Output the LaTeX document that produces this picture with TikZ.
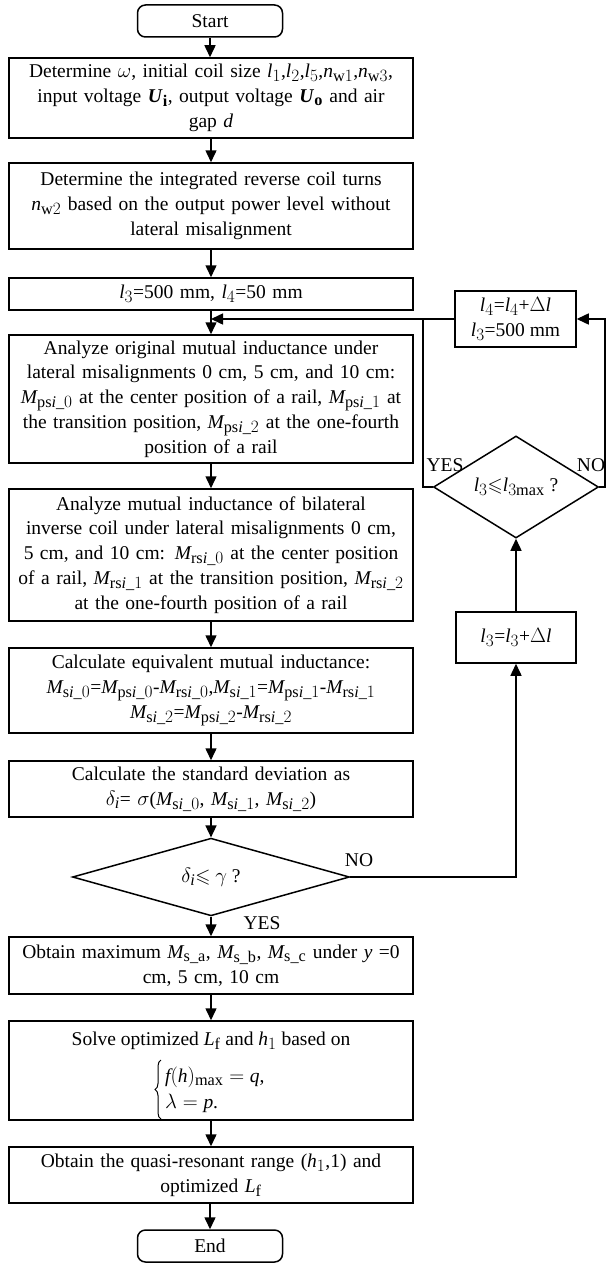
\documentclass[tikz,border=0pt]{standalone}
\usepackage{amsmath,amssymb}
\usepackage{fontspec}
\setmainfont{Liberation Serif}
\usepackage[italic]{mathastext}
\usetikzlibrary{shapes.geometric,arrows.meta,decorations.pathreplacing}
\tikzset{
  every node/.style={font=\fontsize{19.5}{24.8}\selectfont},
  proc/.style={draw, line width=1.5pt, minimum width=404pt, text width=398pt, align=center, inner sep=0pt},
  term/.style={draw, rounded corners=8pt, minimum width=145pt, minimum height=32pt, line width=1.5pt, inner sep=0pt},
  dec/.style={draw, diamond, inner sep=0pt, line width=1.5pt},
  flow/.style={line width=1.5pt, -{Triangle[length=12pt,width=11pt]}},
  plain/.style={line width=1.5pt},
  lab/.style={inner sep=0pt}
}
\begin{document}
\begin{tikzpicture}[x=1pt,y=-1pt]
\useasboundingbox (0,0) rectangle (607,1263);
\node[term] (start) at (210,21) {Start};
\node[proc, minimum height=80pt] (b1) at (211,98) {Determine $\omega$, initial coil size $l_1$,$l_2$,$l_5$,$n_{\mathrm{w}1}$,$n_{\mathrm{w}3}$,\\ input voltage \textbf{\textit{U}}$_{\mathbf{i}}$, output voltage \textbf{\textit{U}}$_{\mathbf{o}}$ and air\\ gap $d$};
\node[proc, minimum height=86pt] (b2) at (211,206) {Determine the integrated reverse coil turns\\ $n_{\mathrm{w}2}$ based on the output power level without\\ lateral misalignment};
\node[proc, minimum height=32pt] (b3) at (211,294) {$l_3$=500 mm, $l_4$=50 mm};
\coordinate (j1) at (211,319);
\node[proc, minimum height=128pt] (b4) at (211,399) {Analyze original mutual inductance under\\ lateral misalignments 0 cm, 5 cm, and 10 cm:\\ $M_{\mathrm{ps}i\_0}$ at the center position of a rail, $M_{\mathrm{ps}i\_1}$ at\\ the transition position, $M_{\mathrm{ps}i\_2}$ at the one-fourth\\ position of a rail};
\node[proc, minimum height=132pt] (b5) at (211,555) {Analyze mutual inductance of bilateral\\ inverse coil under lateral misalignments 0 cm,\\ 5 cm, and 10 cm: $M_{\mathrm{rs}i\_0}$ at the center position\\ of a rail, $M_{\mathrm{rs}i\_1}$ at the transition position, $M_{\mathrm{rs}i\_2}$\\ at the one-fourth position of a rail};
\node[proc, minimum height=85pt] (b6) at (211,690.5) {Calculate equivalent mutual inductance:\\ $M_{\mathrm{s}i\_0}$=$M_{\mathrm{ps}i\_0}$-$M_{\mathrm{rs}i\_0}$,$M_{\mathrm{s}i\_1}$=$M_{\mathrm{ps}i\_1}$-$M_{\mathrm{rs}i\_1}$\\ $M_{\mathrm{s}i\_2}$=$M_{\mathrm{ps}i\_2}$-$M_{\mathrm{rs}i\_2}$};
\node[proc, minimum height=56pt] (b7) at (211,789) {Calculate the standard deviation as\\ $\delta_i$= $\sigma$($M_{\mathrm{s}i\_0}$, $M_{\mathrm{s}i\_1}$, $M_{\mathrm{s}i\_2}$)};
\node[dec, minimum width=277pt, minimum height=67pt] (d1) at (211,877) {$\delta_i$$\leqslant$ $\gamma$ ?};
\node[proc, minimum height=57pt] (b8) at (211,965.5) {Obtain maximum $M_{\mathrm{s\_a}}$, $M_{\mathrm{s\_b}}$, $M_{\mathrm{s\_c}}$ under $y$ =0\\ cm, 5 cm, 10 cm};
\node[proc, minimum height=99pt] (b9) at (211,1070.5) {};
\node[inner sep=0pt] (b9a) at (211,1041) {Solve optimized $L_{\mathrm{f}}$ and $h_1$ based on};
\node[inner sep=0pt, anchor=west] (b9b) at (165,1077) {$f(h)_{\mathrm{max}}=q$,};
\node[inner sep=0pt, anchor=west] (b9c) at (165,1103) {$\lambda=p$.};
\draw[line width=1pt, decorate, decoration={brace, amplitude=6pt}] (161,1119) -- (161,1060);
\node[proc, minimum height=56pt] (b10) at (211,1175) {Obtain the quasi-resonant range ($h_1$,1) and\\ optimized $L_{\mathrm{f}}$};
\node[term] (end) at (210,1246) {End};
% right loop
\node[draw, line width=1.5pt, minimum width=121pt, minimum height=56pt, align=center, inner sep=0pt] (r1) at (515.5,319) {$l_4$=$l_4$+$\Delta l$\\ $l_3$=500 mm};
\node[dec, minimum width=165pt, minimum height=56pt] (d2) at (516,487) {$l_3$$\leqslant$$l_{3\mathrm{max}}$ ?};
\node[draw, line width=1.5pt, minimum width=120pt, minimum height=51pt, inner sep=0pt] (r2) at (516,637.5) {$l_3$=$l_3$+$\Delta l$};
\coordinate (c2) at (605,487);
\coordinate (c3) at (605,319);
\coordinate (c4) at (423,319);
% labels
\node[lab] (yes1) at (262,923) {YES};
\node[lab] (no1) at (359,860) {NO};
\node[lab] (yes2) at (445,465) {YES};
\node[lab] (no2) at (591,465) {NO};
% main flow
\draw[flow] (start) -- (start |- b1.north);
\draw[flow] (b1) -- (b2);
\draw[flow] (b2) -- (b3);
\draw[flow] (b3) -- (b4);
\draw[flow] (b4) -- (b5);
\draw[flow] (b5) -- (b6);
\draw[flow] (b6) -- (b7);
\draw[flow] (b7) -- (d1);
\draw[flow] (d1) -- (b8);
\draw[flow] (b8) -- (b9);
\draw[flow] (b9) -- (b10);
\draw[flow] (b10.south -| end) -- (end);
% loop
\draw[flow] (d1.east) -| (r2.south);
\draw[flow] (r2.north) -- (d2.south);
\draw[flow] (d2.east) -- (c2) -- (c3) -- (r1.east);
\draw[plain] (d2.west) -| (c4);
\draw[flow] (r1.west) -- (j1);
\end{tikzpicture}
\end{document}
